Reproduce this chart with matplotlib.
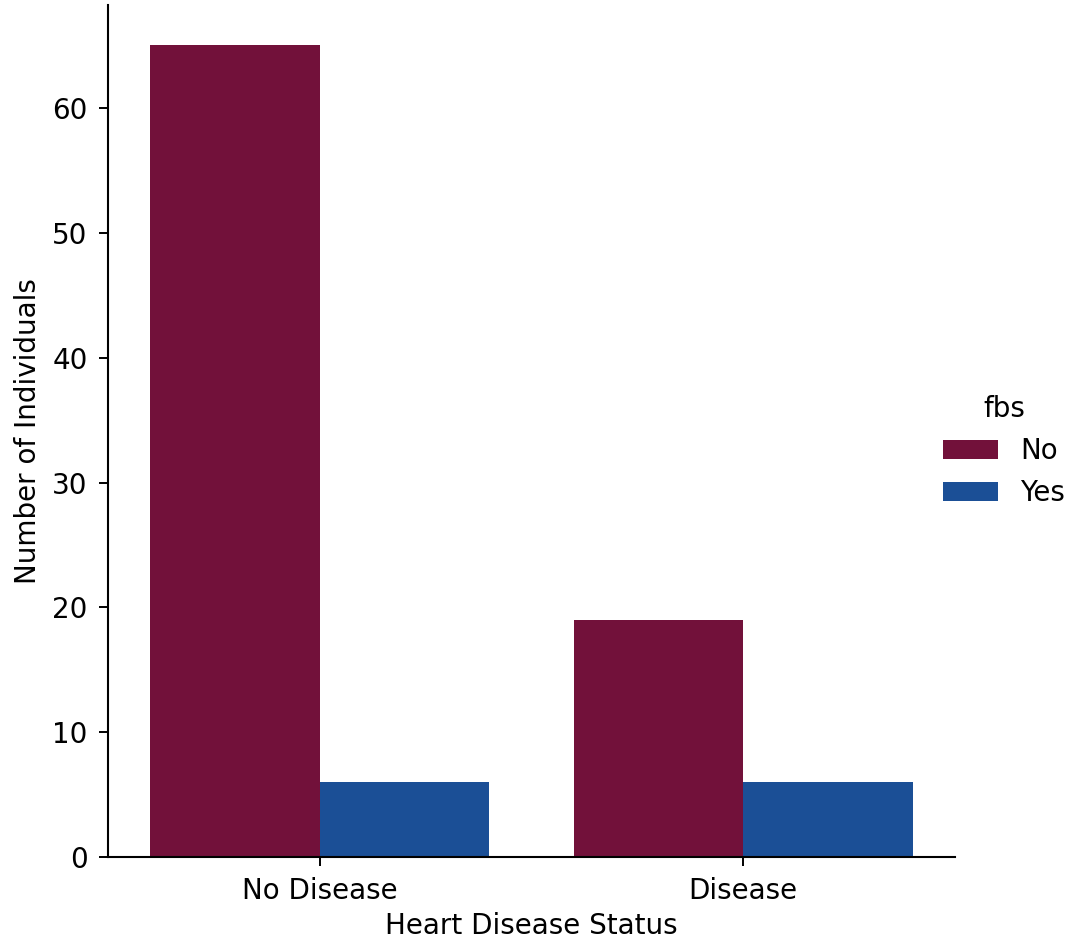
import matplotlib
matplotlib.use("Agg")
import matplotlib.pyplot as plt
import numpy as np

categories = ["No Disease", "Disease"]
fbs_levels = ["No", "Yes"]
counts_no = [65, 19]
counts_yes = [6, 6]
colors = ["#72113a", "#1b4f96"]

plt.rcParams['font.family'] = ['DejaVu Sans']
plt.rcParams['font.size'] = 20

fig = plt.figure(figsize=(10.67, 9.4), dpi=100)
ax = fig.add_axes([0.101, 0.088, 0.794, 0.907])

x = np.arange(len(categories))
w = 0.4
ax.bar(x - w / 2, counts_no, width=w, color=colors[0], label=fbs_levels[0])
ax.bar(x + w / 2, counts_yes, width=w, color=colors[1], label=fbs_levels[1])

ax.set_xticks(x)
ax.set_xticklabels(categories)
ax.set_xlim(-0.5, 1.5)
ax.set_ylim(0, 68.25)
ax.set_yticks([0, 10, 20, 30, 40, 50, 60])
ax.spines['top'].set_visible(False)
ax.spines['right'].set_visible(False)
ax.tick_params(labelsize=20, length=6.5, width=1.4, pad=8)
for s in ['left', 'bottom']:
    ax.spines[s].set_linewidth(1.5)
ax.set_xlabel("Heart Disease Status", fontsize=20, labelpad=5)
ax.set_ylabel("Number of Individuals", fontsize=20, labelpad=7)

leg = fig.legend(title="fbs", loc="center left", bbox_to_anchor=(0.860, 0.52),
                 frameon=False, fontsize=20, title_fontsize=20,
                 handlelength=2.0, handleheight=0.7)

fig.savefig("out.png", dpi=100)
